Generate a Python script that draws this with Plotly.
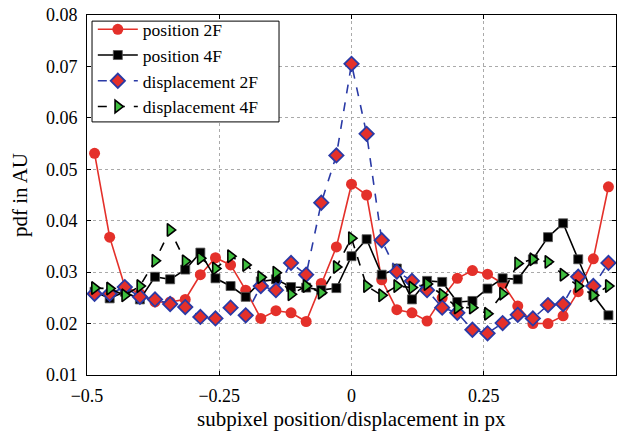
import plotly.graph_objects as go

k_index = list(range(-17, 18))
x_vals = [k / 35 for k in k_index]

position_2F = [0.0531, 0.0368, 0.0272, 0.0258, 0.0242, 0.0242, 0.0247, 0.0295, 0.0328, 0.0314,
               0.0265, 0.0210, 0.0225, 0.0221, 0.0204, 0.0278, 0.0349, 0.0471, 0.0450, 0.0285,
               0.0227, 0.0221, 0.0205, 0.0250, 0.0288, 0.0303, 0.0296, 0.0278, 0.0234, 0.0200,
               0.0200, 0.0215, 0.0262, 0.0326, 0.0466]
position_4F = [0.0262, 0.0249, 0.0262, 0.0247, 0.0291, 0.0286, 0.0305, 0.0338, 0.0288, 0.0273,
               0.0252, 0.0282, 0.0286, 0.0271, 0.0270, 0.0265, 0.0269, 0.0331, 0.0364, 0.0295,
               0.0307, 0.0247, 0.0283, 0.0281, 0.0242, 0.0244, 0.0268, 0.0288, 0.0286, 0.0325,
               0.0368, 0.0395, 0.0325, 0.0255, 0.0216]
displacement_2F = [0.0258, 0.0258, 0.0271, 0.0252, 0.0247, 0.0238, 0.0232, 0.0213, 0.0210, 0.0231,
                   0.0216, 0.0273, 0.0265, 0.0318, 0.0295, 0.0435, 0.0527, 0.0705, 0.0569, 0.0362,
                   0.0301, 0.0283, 0.0265, 0.0231, 0.0221, 0.0188, 0.0181, 0.0201, 0.0217, 0.0210,
                   0.0236, 0.0238, 0.0291, 0.0273, 0.0318]
displacement_4F = [0.0269, 0.0268, 0.0255, 0.0273, 0.0322, 0.0382, 0.0321, 0.0327, 0.0307, 0.0331,
                   0.0314, 0.0290, 0.0299, 0.0257, 0.0273, 0.0260, 0.0310, 0.0366, 0.0273, 0.0255,
                   0.0273, 0.0270, 0.0277, 0.0256, 0.0231, 0.0231, 0.0219, 0.0258, 0.0317, 0.0325,
                   0.0320, 0.0295, 0.0273, 0.0255, 0.0273]

x_ticks = [-0.5, -0.25, 0, 0.25, 0.5]
x_tick_labels = ["\u22120.5", "\u22120.25", "0", "0.25", "0.5"]
y_ticks = [0.01, 0.02, 0.03, 0.04, 0.05, 0.06, 0.07, 0.08]
y_tick_labels = ["0.01", "0.02", "0.03", "0.04", "0.05", "0.06", "0.07", "0.08"]

RED = "#e4302a"
BLUE = "#2a3aa6"
GREEN = "#3fbf3f"
FONT = "Liberation Serif"

fig = go.Figure()
fig.add_trace(go.Scatter(
    x=x_vals, y=position_2F, name="position 2F", mode="lines+markers",
    line=dict(color=RED, width=1.6),
    marker=dict(symbol="circle", size=11, color=RED, line=dict(width=0)),
))
fig.add_trace(go.Scatter(
    x=x_vals, y=position_4F, name="position 4F", mode="lines+markers",
    line=dict(color="black", width=1.6),
    marker=dict(symbol="square", size=9, color="black", line=dict(width=0.8, color="#555")),
))
fig.add_trace(go.Scatter(
    x=x_vals, y=displacement_2F, name="displacement 2F", mode="lines+markers",
    line=dict(color=BLUE, width=1.6, dash="dash"),
    marker=dict(symbol="diamond", size=11, color=RED, line=dict(width=1.8, color=BLUE)),
))
fig.add_trace(go.Scatter(
    x=x_vals, y=displacement_4F, name="displacement 4F", mode="lines+markers",
    line=dict(color="black", width=1.6, dash="dash"),
    marker=dict(symbol="triangle-right", size=11, color=GREEN, line=dict(width=1.6, color="black")),
))

# legend frame (white box with black border)
fig.add_shape(type="rect", xref="paper", yref="paper",
              x0=0.0095, x1=0.363, y0=0.703, y1=0.983,
              fillcolor="white", line=dict(color="black", width=1), layer="above")

fig.add_annotation(text="subpixel position/displacement in px", xref="paper", yref="paper",
                   x=0.5, y=-0.122, xanchor="center", yanchor="middle", showarrow=False,
                   font=dict(family=FONT, size=21, color="black"))

fig.update_layout(
    width=627, height=433,
    margin=dict(l=87, r=11, t=15, b=58, autoexpand=False),
    paper_bgcolor="white", plot_bgcolor="white",
    font=dict(family=FONT, size=18, color="black"),
    showlegend=True,
    legend=dict(
        x=0.011, y=1.01, xanchor="left", yanchor="top",
        bgcolor="rgba(0,0,0,0)", borderwidth=0,
        font=dict(family=FONT, size=17.5, color="black"),
        itemwidth=40, tracegroupgap=0,
    ),
)
fig.update_xaxes(
    range=[-0.5, 0.5], tickvals=x_ticks, ticktext=x_tick_labels,
    showline=True, linecolor="black", linewidth=1, mirror="ticks",
    ticks="inside", ticklen=4, tickcolor="black",
    showgrid=True, gridcolor="#aaaaaa", griddash="dot", gridwidth=1,
    zeroline=False, automargin=False,
    tickfont=dict(family=FONT, size=18), ticklabelstandoff=4,
)
fig.update_yaxes(
    range=[0.01, 0.08], tickvals=y_ticks, ticktext=y_tick_labels,
    showline=True, linecolor="black", linewidth=1, mirror="ticks",
    ticks="inside", ticklen=4, tickcolor="black",
    showgrid=True, gridcolor="#aaaaaa", griddash="dot", gridwidth=1,
    zeroline=False, automargin=False,
    title=dict(text="pdf in AU", font=dict(family=FONT, size=21), standoff=12),
    tickfont=dict(family=FONT, size=18), ticklabelstandoff=5,
)

fig.write_html("out.html")
